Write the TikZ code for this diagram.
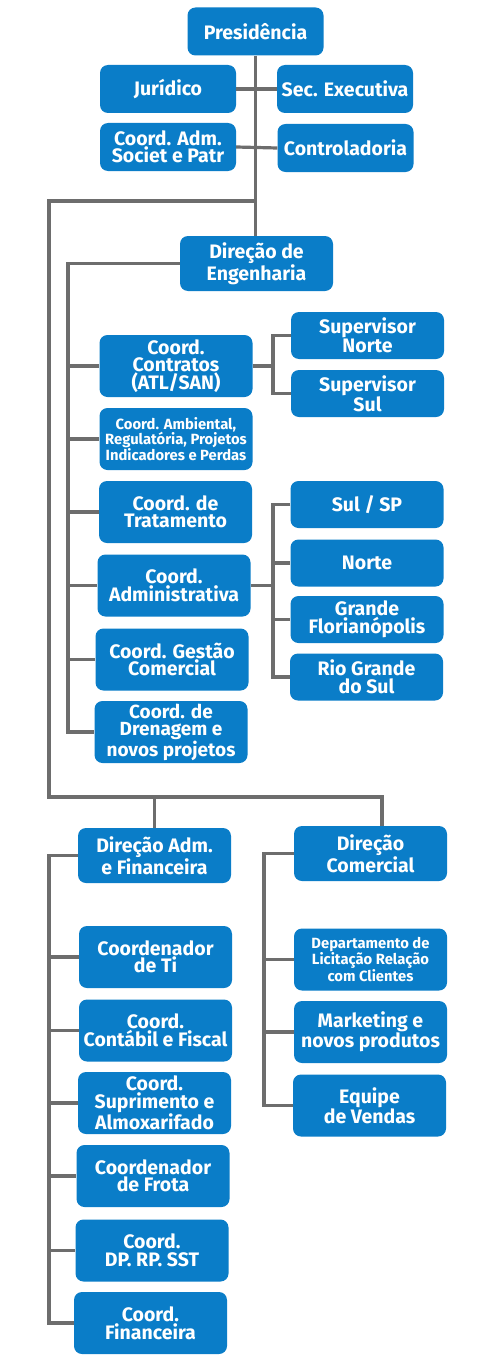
\documentclass[tikz,border=0pt]{standalone}
\usepackage{fontspec}
\setmainfont{Fira Sans}
\usepackage{xcolor}
\usepackage{tikz}

\definecolor{azul}{HTML}{0A7DC8}
\definecolor{cinza}{HTML}{6D6D6D}

\begin{document}
\begin{tikzpicture}[x=1pt, y=-1pt,
    caixa/.style={fill=azul, rounded corners=8pt, text=white, align=center, inner sep=0pt,
        font=\bfseries\fontsize{19.5}{17.5}\selectfont, minimum width=153pt, minimum height=62pt},
    curta/.style={caixa, minimum width=136pt, minimum height=48pt},
    media/.style={caixa, minimum height=55pt},
    baixa/.style={caixa, minimum height=47pt},
    miuda/.style={caixa, font=\bfseries\fontsize{14.8}{15.5}\selectfont},
    linha/.style={draw=cinza, line width=3.2pt}]
    % Área da figura
    \path[fill=white] (0,0) rectangle (500,1370);

    % Presidência e assessorias
    \node[curta] (pres) at (255.5,31.5) {Presidência};
    \node[curta] (jur) at (168,89) {Jurídico};
    \node[curta] (sec) at (345,89) {Sec. Executiva};
    \node[curta] (socie) at (168,147) {Coord. Adm.\\Societ e Patr};
    \node[curta] (contr) at (345.5,148) {Controladoria};

    % Direção de Engenharia
    \node[media] (direng) at (256.5,263.5) {Direção de\\Engenharia};
    \node[caixa] (contratos) at (176,366) {Coord.\\Contratos\\(ATL/SAN)};
    \node[baixa] (supnorte) at (367.5,335.5) {Supervisor\\Norte};
    \node[baixa] (supsul) at (367.5,393.5) {Supervisor\\Sul};
    \node[miuda] (ambiental) at (176,439) {Coord. Ambiental,\\Regulatória, Projetos\\Indicadores e Perdas};
    \node[caixa] (tratamento) at (175.5,512) {Coord. de\\Tratamento};
    \node[caixa] (administrativa) at (174,585.5) {Coord.\\Administrativa};
    \node[caixa] (gestao) at (172,659.5) {Coord. Gestão\\Comercial};
    \node[caixa, font=\bfseries\fontsize{19}{17.2}\selectfont] (drenagem) at (171,732) {Coord. de\\Drenagem e\\novos projetos};
    \node[baixa] (sulsp) at (367,504.5) {Sul / SP};
    \node[baixa] (norte) at (367,563) {Norte};
    \node[baixa] (floripa) at (367,619.5) {Grande\\Florianópolis};
    \node[baixa] (riogrande) at (366.5,677) {Rio Grande\\do Sul};

    % Direção Adm. e Financeira
    \node[media] (diradm) at (154.5,855.5) {Direção Adm.\\e Financeira};
    \node[caixa] (ti) at (155.5,957) {Coordenador\\de Ti};
    \node[caixa] (contabil) at (155.5,1030.5) {Coord.\\Contábil e Fiscal};
    \node[caixa] (suprimento) at (154.5,1103) {Coord.\\Suprimento e\\Almoxarifado};
    \node[caixa] (frota) at (153,1176) {Coordenador\\de Frota};
    \node[caixa] (sst) at (152,1250.5) {Coord.\\DP. RP. SST};
    \node[caixa] (financeira) at (150.5,1323) {Coord.\\Financeira};

    % Direção Comercial
    \node[media] (dircom) at (370.5,853.5) {Direção\\Comercial};
    \node[miuda] (licitacao) at (370.5,959.5) {Departamento de\\Licitação Relação\\com Clientes};
    \node[caixa] (marketing) at (370.5,1032) {Marketing e\\novos produtos};
    \node[caixa, font=\bfseries\fontsize{19.5}{15.7}\selectfont] (equipe) at (369.5,1105.5) {Equipe\\de Vendas};

    % Eixos das ligações
    \coordinate (desvio) at (49,201);
    \coordinate (ramo) at (382,797);
    \coordinate (eixoeng) at (68,0);
    \coordinate (eixosup) at (273,0);
    \coordinate (eixoadm) at (49,0);
    \coordinate (eixocom) at (264,0);

    % Ligações da Presidência
    \draw[linha] (pres.south) -- (pres.south |- direng.north);
    \draw[linha] (jur.east) -- (sec.west);
    \draw[linha] (socie.east) -- (contr.west);
    \draw[linha] (pres.south |- desvio) -- (desvio) |- (ramo) -- (ramo |- dircom.north);
    \draw[linha] (diradm.north) -- (diradm.north |- ramo);

    % Ligações da Engenharia
    \draw[linha] (direng.west) -| (eixoeng |- drenagem.west) -- (drenagem.west);
    \foreach \n in {contratos, ambiental, tratamento, administrativa, gestao}
        \draw[linha] (eixoeng |- \n.west) -- (\n.west);
    \draw[linha] (contratos.east) -- (contratos.east -| eixosup);
    \draw[linha] (supnorte.west) -| (eixosup |- supsul.west) -- (supsul.west);
    \draw[linha] (administrativa.east) -- (administrativa.east -| eixosup);
    \draw[linha] (sulsp.west) -| (eixosup |- riogrande.west) -- (riogrande.west);
    \foreach \n in {norte, floripa}
        \draw[linha] (eixosup |- \n.west) -- (\n.west);

    % Ligações das demais direções
    \draw[linha] (diradm.west) -| (eixoadm |- financeira.west) -- (financeira.west);
    \foreach \n in {ti, contabil, suprimento, frota, sst}
        \draw[linha] (eixoadm |- \n.west) -- (\n.west);
    \draw[linha] (dircom.west) -| (eixocom |- equipe.west) -- (equipe.west);
    \foreach \n in {licitacao, marketing}
        \draw[linha] (eixocom |- \n.west) -- (\n.west);
\end{tikzpicture}
\end{document}
